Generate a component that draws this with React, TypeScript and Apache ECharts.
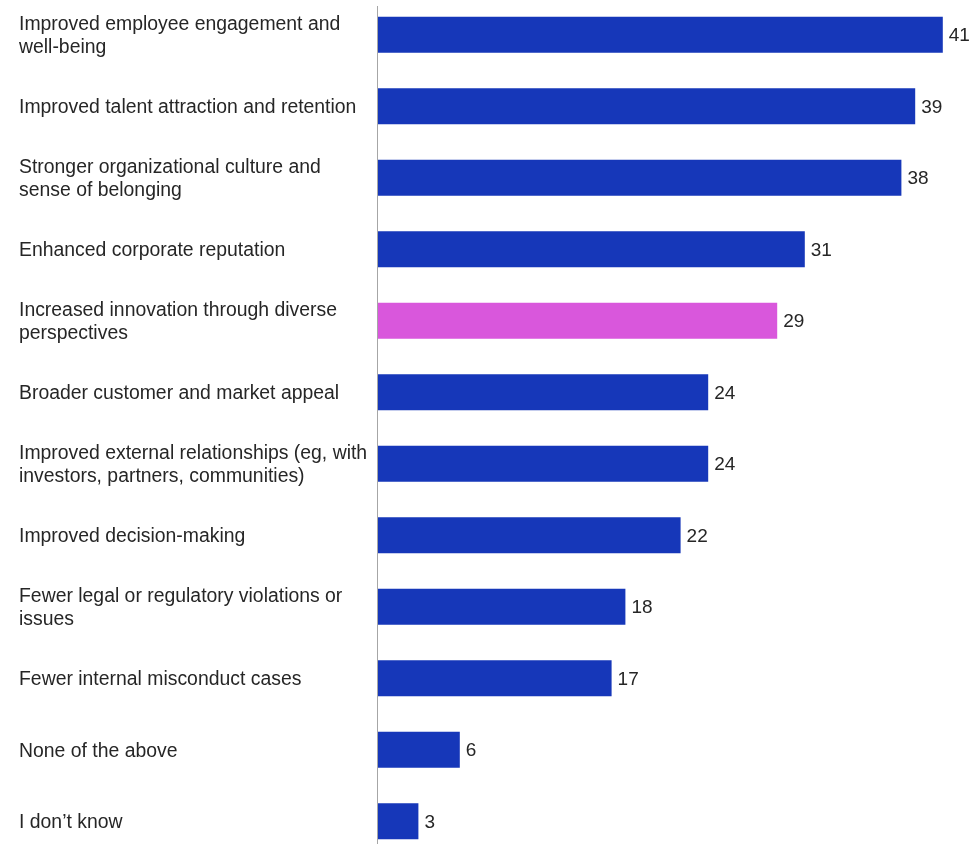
import React, { useEffect, useRef } from "react";
import * as echarts from "echarts";

const categories = [
  "Improved employee engagement and\nwell-being",
  "Improved talent attraction and retention",
  "Stronger organizational culture and\nsense of belonging",
  "Enhanced corporate reputation",
  "Increased innovation through diverse\nperspectives",
  "Broader customer and market appeal",
  "Improved external relationships (eg, with\ninvestors, partners, communities)",
  "Improved decision-making",
  "Fewer legal or regulatory violations or\nissues",
  "Fewer internal misconduct cases",
  "None of the above",
  "I don\u2019t know",
];
const values = [41, 39, 38, 31, 29, 24, 24, 22, 18, 17, 6, 3];
const highlighted = [false, false, false, false, true, false, false, false, false, false, false, false];

const BLUE = "#1637b9";
const PINK = "#d957dc";
const FONT = "Liberation Sans";

export default function App() {
  const ref = useRef<HTMLDivElement>(null);
  useEffect(() => {
    if (!ref.current) return;
    const chart = echarts.init(ref.current, null, { renderer: "svg" });
    chart.setOption({
      animation: false,
      grid: { left: 377, right: 8.6, top: 0, bottom: 0, containLabel: false },
      xAxis: {
        type: "value",
        min: 0,
        max: 43,
        show: false,
      },
      yAxis: {
        type: "category",
        data: categories,
        inverse: true,
        axisLine: { show: false },
        axisTick: { show: false },
        axisLabel: {
          align: "left",
          margin: 358,
          fontFamily: FONT,
          fontSize: 19.4,
          lineHeight: 23,
          color: "#262626",
        },
      },
      graphic: [
        {
          type: "line",
          shape: { x1: 377.5, y1: 7, x2: 377.5, y2: 860 },
          style: { stroke: "#a6a6a6", lineWidth: 1 },
          z: 10,
        },
      ],
      series: [
        {
          type: "bar",
          barWidth: 36,
          data: values.map((v, i) => ({
            value: v,
            itemStyle: { color: highlighted[i] ? PINK : BLUE },
          })),
          label: {
            show: true,
            position: "right",
            distance: 6,
            fontFamily: FONT,
            fontSize: 19,
            color: "#262626",
          },
        },
      ],
    });
    return () => chart.dispose();
  }, []);
  return (
    <div
      ref={ref}
      style={{ position: "fixed", left: 0, top: -1, width: 979, height: 858 }}
    />
  );
}
